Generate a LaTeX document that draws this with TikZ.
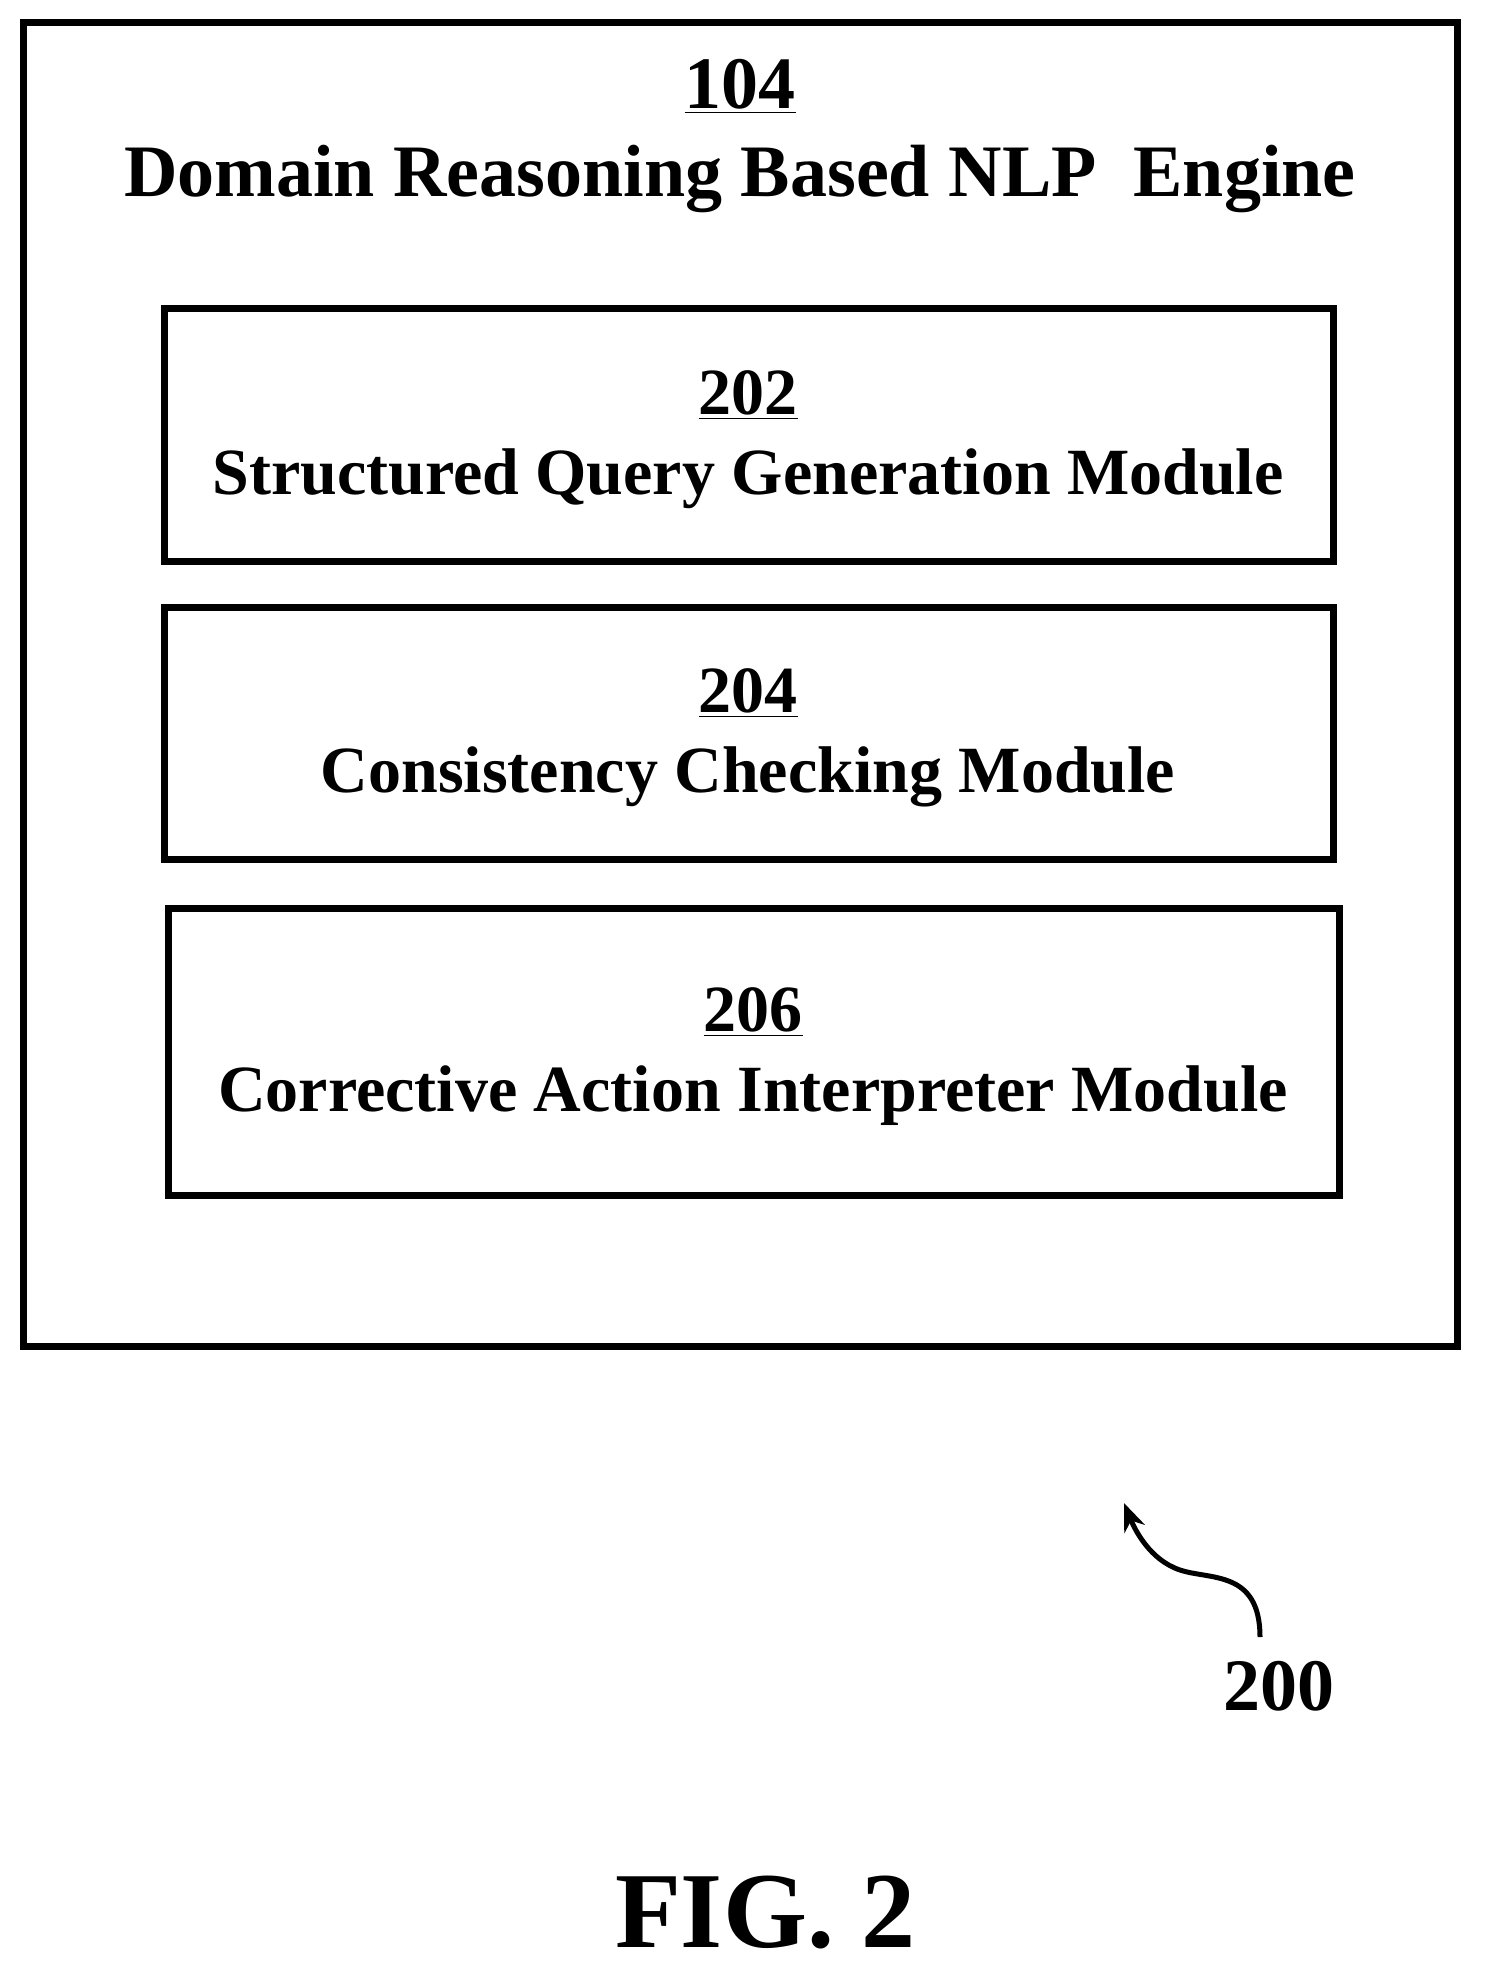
\documentclass[tikz,border=0pt]{standalone}
\usepackage{fontspec}
\setmainfont{Liberation Serif}
\usetikzlibrary{arrows.meta}
\begin{document}
\begin{tikzpicture}[x=0.5pt,y=-0.5pt,
  frame/.style={draw, line width=3.5pt},
  label/.style={font=\fontsize{33}{40}\selectfont\bfseries, align=center},
  lead/.style={line width=2.5pt, -{Stealth[length=14pt,width=11pt]}}]

\useasboundingbox (0,0) rectangle (1486,1975);

% outer engine
\draw[frame] (23,23) rectangle (1457,1346);
\node[label, font=\fontsize{37}{44}\selectfont\bfseries] (engine) at (740,136) {\underline{104}\\Domain Reasoning Based NLP\ \ Engine};

% modules
\draw[frame] (164,308) rectangle (1333,561);
\node[label] (sqg) at (748,440) {\underline{202}\\Structured Query Generation Module};
\draw[frame] (164,607) rectangle (1333,859);
\node[label] (ccm) at (748,738) {\underline{204}\\Consistency Checking Module};
\draw[frame] (168,908) rectangle (1339,1195);
\node[label] (cai) at (753,1057) {\underline{206}\\Corrective Action Interpreter Module};

% reference numeral
\node[label, font=\fontsize{37}{44}\selectfont\bfseries] (fig) at (1279,1686) {200};
\coordinate (tip) at (1124,1503);
\draw[lead] (1260,1637) .. controls (1260,1570) and (1210,1580) .. (1180,1570) .. controls (1150,1560) and (1135,1530) .. (tip);

\node[font=\fontsize{54}{60}\selectfont\bfseries] (caption) at (765,1912) {FIG. 2};
\end{tikzpicture}
\end{document}
